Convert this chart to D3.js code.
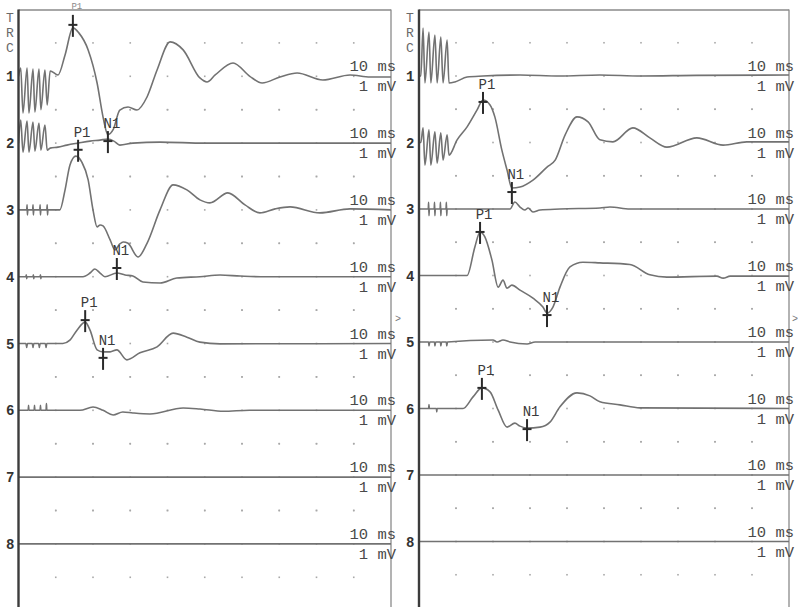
<!DOCTYPE html>
<html><head><meta charset="utf-8">
<script src="https://cdn.jsdelivr.net/npm/d3@7"></script>
<style>html,body{margin:0;padding:0;background:#fff;} svg{display:block;}</style>
</head><body>
<script>
// ---------------- data (time in ms, amplitude in mV) ----------------
const channels = ["1","2","3","4","5","6","7","8"];
const timeScaleLabel = "10 ms";
const ampScaleLabel = "1 mV";
const sideLetters = ["T","R","C"];
const gridMs = [10,20,30,40,50,60,70,80,90];
const gridMv = [-1,0,1];

const leftCh1 = [[0,0],[0.6,0.25],[1.2,-1.1],[2.3,0.25],[2.8,-1.1],[3.9,0.22],[4.4,-1.07],[5.5,0.22],[6.0,-1.0],[7.1,0.19],[7.7,-0.86],[8.5,0.16],[10.6,0.04],[12.5,0.64],[14.6,1.45],[16.2,1.3],[18.7,0.79],[21.1,-0.2],[22.7,-1.22],[24.0,-1.75],[25.4,-1.6],[27.2,-1.01],[29.4,-0.92],[31.8,-1.01],[34.5,-0.62],[37.2,0.19],[40.7,1.03],[44.2,0.79],[48.7,-0.05],[50.6,-0.17],[52.8,0.04],[57.6,0.40],[62.1,0],[65.4,-0.2],[70.2,-0.02],[74.8,0.1],[81.7,-0.11],[89,0.04],[94.4,-0.02],[100,-0.02]];
const leftCh2 = [[0,0],[0.6,0.69],[1.2,-0.27],[2.3,0.66],[2.8,-0.27],[3.9,0.63],[4.4,-0.24],[5.5,0.6],[6.0,-0.21],[7.1,0.54],[7.7,-0.21],[8.5,-0.15],[10.6,-0.12],[13,-0.06],[16,0],[19.2,0.06],[21.9,0.09],[24,0.12],[25.6,0.06],[27.2,-0.06],[30.7,0],[38,0.03],[50,0],[100,0]];
const leftCh3 = [[0,0],[2.2,0],[2.3,0.15],[2.4,-0.15],[2.5,0],[3.8,0],[3.9,0.15],[4.0,-0.15],[4.1,0],[5.7,0],[5.8,0.15],[5.9,-0.15],[6.0,0],[7.6,0],[7.7,0.15],[7.8,-0.15],[7.9,0],[11.1,0],[12.5,0.6],[13.8,1.34],[15.4,1.61],[17,1.43],[18.7,0.9],[20,0],[21.1,-0.51],[21.9,-0.45],[22.7,-0.48],[24.6,-0.9],[25.9,-1.2],[27.2,-1.02],[28.1,-0.96],[29.4,-1.0],[32.1,-1.41],[34.5,-1.0],[38,0],[41.5,0.75],[45.2,0.6],[48.7,0.3],[51.4,0.21],[56.2,0.51],[60.8,0.15],[64.8,-0.09],[68.9,0.03],[72.9,0.09],[80.9,-0.09],[89,0.03],[100,0]];
const leftCh4 = [[0,0],[2.0,0],[2.1,0.06],[2.2,-0.06],[2.3,0],[3.9,0],[4.0,0.06],[4.1,-0.06],[4.2,0],[5.8,0],[5.9,0.06],[6.0,-0.06],[6.1,0],[17.3,0],[19.2,0.11],[20.5,0.23],[21.9,0.11],[23.2,0],[26.4,0.11],[28.6,0.05],[30.7,0.02],[33.4,-0.16],[38,-0.19],[42.5,-0.04],[48.7,0],[54.1,0.05],[59.5,0.02],[65,0],[100,0]];
const leftCh5 = [[0,0],[2,0],[2.2,-0.12],[2.4,0],[3.7,0],[3.9,-0.12],[4.1,0],[5.4,0],[5.6,-0.12],[5.8,0],[7.2,0],[7.4,-0.12],[7.6,0],[11.9,0],[13.8,0.1],[15.7,0.4],[17.9,0.64],[19.2,0.4],[21.1,-0.19],[22.7,-0.25],[24.6,-0.25],[26.4,-0.19],[29.1,-0.49],[32.6,-0.28],[37.2,-0.1],[41.5,0.31],[45.2,0.19],[48.7,0.04],[54.1,-0.01],[100,0]];
const leftCh6 = [[0,0],[2.6,0],[2.7,0.15],[2.8,0],[4.2,0],[4.3,0.15],[4.4,0],[5.8,0],[5.9,0.15],[6.0,0],[7.4,0],[7.5,0.2],[7.6,0],[16.5,0],[20,0.1],[22.7,0],[25.4,-0.14],[28,-0.05],[30.7,-0.08],[35.3,-0.11],[44.2,0.07],[48.7,0.04],[55,-0.03],[62,0],[100,0]];
const leftCh7 = [[0,0],[100,0]];
const leftCh8 = [[0,0],[100,0]];

const rightCh1 = [[0,0],[0.5,0],[1.1,1.44],[1.6,-0.21],[2.7,1.32],[3.2,-0.21],[4.3,1.23],[4.9,-0.21],[5.9,1.17],[6.5,-0.21],[7.6,1.08],[8.1,-0.21],[9.7,-0.18],[13,-0.03],[17.3,0],[27.3,0.03],[38,0],[48.9,0.03],[60,0],[75,0.02],[100,0.03]];
const rightCh2 = [[0,0],[0.5,0],[1.1,0.44],[1.6,-0.68],[2.7,0.38],[3.2,-0.68],[4.3,0.32],[4.9,-0.62],[5.9,0.29],[6.5,-0.53],[7.6,0.23],[8.1,-0.38],[10.3,0.08],[13,0.47],[15.7,0.98],[17.3,1.28],[19.2,1.13],[20.5,0.77],[22.4,-0.23],[23.8,-0.83],[25.1,-1.37],[27.3,-1.34],[30.8,-1.13],[34.6,-0.74],[36.8,-0.53],[39.5,0.23],[42.7,0.77],[45.7,0.62],[48.9,0.08],[52.4,0.02],[57.8,0.44],[62.4,0.14],[67,-0.14],[75.1,0.14],[82.2,-0.08],[88.6,0.02],[100,0.02]];
const rightCh3 = [[0,0],[2.5,0],[2.6,0.2],[2.7,-0.2],[2.8,0],[4.1,0],[4.2,0.2],[4.3,-0.2],[4.4,0],[5.7,0],[5.8,0.2],[5.9,-0.2],[6.0,0],[7.3,0],[7.4,0.2],[7.5,-0.2],[7.6,0],[24.6,0],[25.9,0.21],[27.3,0.06],[28.6,-0.03],[29.5,0.03],[30.8,-0.09],[32.7,-0.03],[38.1,0],[48.9,0.03],[51.6,0.06],[57,0],[100,0]];
const rightCh4 = [[0,0],[13,0],[15.1,0.86],[16.5,1.31],[17.8,1.16],[19.7,0.47],[21.4,-0.35],[22.7,-0.14],[23.8,-0.38],[25.1,-0.29],[27.3,-0.44],[30.8,-0.68],[33.5,-0.95],[34.6,-1.13],[36.2,-0.95],[38.1,-0.35],[40.8,0.26],[44.3,0.4],[48.9,0.38],[57,0.33],[62.4,0.02],[67,-0.05],[80.5,-0.02],[82.2,-0.08],[84.1,-0.02],[100,-0.02]];
const rightCh5 = [[0,0],[2.6,0],[2.7,-0.12],[2.9,0],[4.2,0],[4.3,-0.12],[4.5,0],[5.8,0],[5.9,-0.12],[6.1,0],[7.4,0],[7.5,-0.12],[7.7,0],[20,0.06],[21.1,0],[22.7,0.06],[24.6,0],[29.2,-0.06],[31.4,0],[100,0]];
const rightCh6 = [[0,0],[2.6,0],[2.7,0.12],[2.8,0],[4.7,0],[4.8,-0.1],[4.9,0],[11.9,0],[14.6,0.35],[17,0.62],[19.2,0.5],[21.4,-0.05],[23.8,-0.56],[25.9,-0.44],[27.3,-0.53],[29.2,-0.59],[32.7,-0.56],[35.4,-0.41],[38.1,0.05],[42.7,0.47],[46.2,0.38],[48.9,0.2],[54.3,0.11],[59.7,0.02],[100,0]];
const rightCh7 = [[0,0],[100,0]];
const rightCh8 = [[0,0],[100,0]];

// markers: [channel index (0-based), label, ms, mV]
const leftMarkers = [[0,"P1",14.6,1.54],[1,"P1",16,-0.2],[1,"N1",24,0.06],[3,"N1",26.4,0.26],[4,"P1",17.9,0.7],[4,"N1",22.7,-0.43]];
const rightMarkers = [[1,"P1",17.3,1.22],[1,"N1",25.1,-1.49],[3,"P1",16.5,1.31],[3,"N1",34.6,-1.19],[5,"P1",17,0.62],[5,"N1",29.2,-0.62]];

// ---------------- drawing ----------------
const W = 798, H = 607;
const svg = d3.select("body").append("svg").attr("width", W).attr("height", H);
svg.append("rect").attr("width", W).attr("height", H).attr("fill", "#fff");
const defs = svg.append("defs");

const panels = [
  {id:"L", x0:18.5, x1:391, top:9.5, divH:33.4, series:[leftCh1,leftCh2,leftCh3,leftCh4,leftCh5,leftCh6,leftCh7,leftCh8], markers:leftMarkers, letterX:6},
  {id:"R", x0:419, x1:789, top:9.5, divH:33.25, series:[rightCh1,rightCh2,rightCh3,rightCh4,rightCh5,rightCh6,rightCh7,rightCh8], markers:rightMarkers, letterX:406}
];

const mono = "'Liberation Mono', 'DejaVu Sans Mono', monospace";

panels.forEach(p => {
  const x = d3.scaleLinear().domain([0,100]).range([p.x0, p.x1]);
  const yFor = i => {
    const base = p.top + p.divH * (2*i + 2);
    return d3.scaleLinear().domain([-1,1]).range([base + p.divH, base - p.divH]);
  };
  const g = svg.append("g");
  const clipId = "clip" + p.id;
  defs.append("clipPath").attr("id", clipId).append("rect")
    .attr("x", p.x0).attr("y", p.top).attr("width", p.x1 - p.x0).attr("height", H - p.top);

  // grid dots
  channels.forEach((c, i) => {
    const y = yFor(i);
    gridMv.forEach(v => gridMs.forEach(t => {
      g.append("rect").attr("x", x(t) - 0.8).attr("y", y(v) - 0.8)
        .attr("width", 1.6).attr("height", 1.6).attr("fill", "#a8a8a8");
    }));
  });

  // frame
  g.append("line").attr("x1", p.x0).attr("x2", p.x1).attr("y1", p.top + 0.5).attr("y2", p.top + 0.5)
    .attr("stroke", "#8a8a8a").attr("stroke-width", 1.3);
  g.append("line").attr("x1", p.x1).attr("x2", p.x1).attr("y1", p.top).attr("y2", H)
    .attr("stroke", "#8a8a8a").attr("stroke-width", 1.3);

  // traces
  const tg = g.append("g").attr("clip-path", `url(#${clipId})`);
  p.series.forEach((s, i) => {
    const y = yFor(i);
    const line = d3.line().x(d => x(d[0])).y(d => y(d[1])).curve(d3.curveMonotoneX);
    tg.append("path").attr("d", line(s)).attr("fill", "none")
      .attr("stroke", "#727272").attr("stroke-width", 1.6).attr("stroke-linejoin", "round");
  });

  // left axis (darker)
  g.append("line").attr("x1", p.x0).attr("x2", p.x0).attr("y1", p.top).attr("y2", H)
    .attr("stroke", "#3c3c3c").attr("stroke-width", 2.4);

  // markers
  p.markers.forEach(m => {
    const y = yFor(m[0]);
    const mx = x(m[2]), cy = y(m[3]);
    g.append("line").attr("x1", mx).attr("x2", mx).attr("y1", cy - 10).attr("y2", cy + 12)
      .attr("stroke", "#2a2a2a").attr("stroke-width", 2);
    g.append("line").attr("x1", mx - 4.5).attr("x2", mx + 4.5).attr("y1", cy).attr("y2", cy)
      .attr("stroke", "#2a2a2a").attr("stroke-width", 2);
    const atTop = (cy - 13 < 14);
    g.append("text").attr("x", mx + 4).attr("y", atTop ? 8.5 : cy - 13).attr("text-anchor", "middle")
      .attr("font-family", mono).attr("font-size", atTop ? 9 : 14).attr("fill", atTop ? "#8a8a8a" : "#3a3a3a")
      .text(m[1]);
  });

  // scale labels + channel numbers
  channels.forEach((c, i) => {
    const base = yFor(i)(0);
    g.append("text").attr("x", p.x1 + 5).attr("y", base - 5).attr("text-anchor", "end")
      .attr("font-family", mono).attr("font-size", 15.5).attr("fill", "#4a4a4a").text(timeScaleLabel);
    g.append("text").attr("x", p.x1 + 5).attr("y", base + 15).attr("text-anchor", "end")
      .attr("font-family", mono).attr("font-size", 15.5).attr("fill", "#4a4a4a").text(ampScaleLabel);
    g.append("text").attr("x", p.letterX).attr("y", base + 5).attr("text-anchor", "start")
      .attr("font-family", mono).attr("font-weight", "bold").attr("font-size", 14).attr("fill", "#333").text(c);
  });

  // vertical letters
  sideLetters.forEach((l, k) => {
    g.append("text").attr("x", p.letterX).attr("y", [22, 37, 52][k])
      .attr("font-family", mono).attr("font-size", 13).attr("fill", "#6a6a6a").text(l);
  });
});

// small markers between panels
svg.append("text").attr("x", 395).attr("y", 322).attr("font-family", mono).attr("font-size", 10).attr("fill", "#777").text(">");
svg.append("text").attr("x", 792).attr("y", 322).attr("font-family", mono).attr("font-size", 10).attr("fill", "#777").text(">");
</script>
</body></html>
